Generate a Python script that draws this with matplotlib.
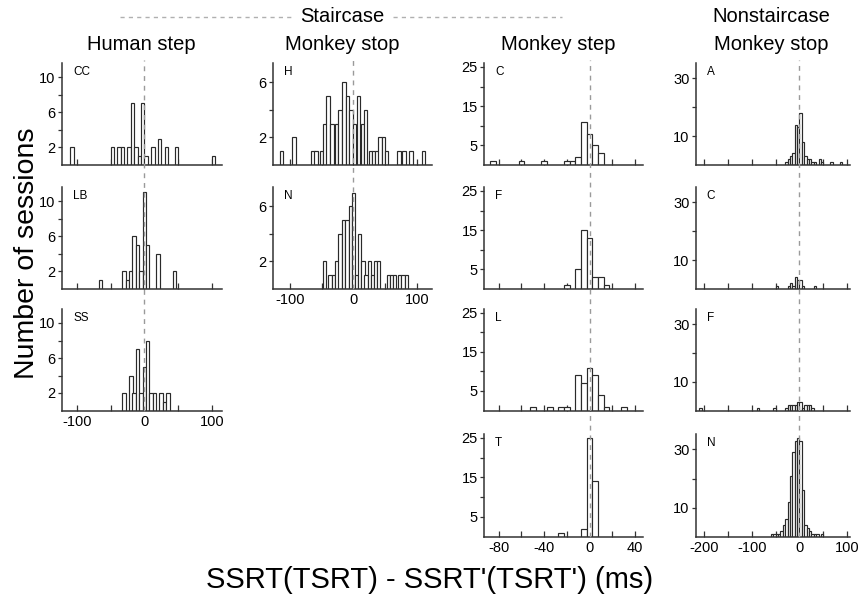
import matplotlib.pyplot as plt
from matplotlib.lines import Line2D
from matplotlib import transforms

plt.rcParams['font.family'] = ['Liberation Sans', 'DejaVu Sans']

W, H = 858, 601

# bin centres (ms) and number of sessions per bin

# staircase, human step
cc_x = [-107.5, -47.5, -37.5, -32.5, -22.5, -17.5, -12.5, -7.5, -2.5, 2.5, 12.5, 22.5, 32.5, 47.5, 102.5]
cc_n = [2, 2, 2, 2, 2, 7, 2, 1, 7, 1, 2, 3, 2, 2, 1]
lb_x = [-65, -30, -25, -20, -15, -10, -5, 0, 5, 20, 45]
lb_n = [1, 2, 1, 2, 6, 5, 2, 11, 5, 4, 2]
ss_x = [-30, -20, -15, -10, -5, 0, 5, 10, 15, 25, 30, 35]
ss_n = [2, 4, 2, 7, 2, 5, 8, 2, 2, 2, 1, 2]

# staircase, monkey stop
h_x = [-114, -94, -64, -59, -50, -45, -40, -34, -27, -21, -15, -9, -4, 2, 8, 14, 19,
       27, 32, 37, 42, 47, 52, 72, 80, 91, 111]
h_n = [1, 2, 1, 1, 1, 3, 5, 3, 3, 4, 6, 5, 4, 3, 5, 3, 4,
       1, 1, 1, 2, 2, 1, 1, 1, 1, 1]
n_x = [-46, -37, -32, -26, -21, -16, -10, -5, 0, 5, 10, 15, 20, 25, 30, 35, 40,
       55, 60, 65, 73, 78, 84]
n_n = [2, 1, 1, 2, 4, 5, 5, 6, 7, 1, 4, 2, 1, 2, 1, 2, 2,
       1, 1, 1, 1, 1, 1]

# staircase, monkey step
c_x = [-85, -60, -40, -20, -15, -10, -5, 0, 5, 10]
c_n = [1, 1, 1, 1, 1, 2, 11, 8, 5, 3]
f_x = [-20, -10, -5, 0, 5, 10, 15]
f_n = [1, 5, 15, 13, 3, 3, 1]
l_x = [-50, -35, -25, -20, -10, -5, 0, 5, 10, 15, 30]
l_n = [1, 1, 1, 1, 9, 7, 11, 9, 4, 1, 1]
t_x = [-25, -5, 0, 5]
t_n = [1, 2, 25, 14]

# nonstaircase, monkey stop
a_x = [-27.5, -22.5, -17.5, -12.5, -7.5, -2.5, 2.5, 7.5, 12.5, 17.5, 22.5, 27.5, 32.5,
       42.5, 47.5, 67.5, 87.5]
a_n = [1, 2, 3, 4, 14, 13, 18, 8, 3, 2, 2, 1, 1, 2, 1, 1, 1]
c4_x = [-47.5, -22.5, -17.5, -12.5, -7.5, -2.5, 2.5, 7.5, 32.5]
c4_n = [1, 1, 2, 1, 4, 3, 3, 1, 1]
f4_x = [-207.5, -87.5, -52.5, -27.5, -22.5, -17.5, -12.5, -7.5, -2.5, 2.5, 7.5,
        12.5, 17.5, 22.5, 27.5]
f4_n = [1, 1, 1, 1, 2, 2, 2, 2, 3, 3, 1, 2, 2, 2, 1]
n4_x = [-57.5, -52.5, -47.5, -42.5, -37.5, -32.5, -27.5, -22.5, -17.5, -12.5, -7.5,
        -2.5, 2.5, 7.5, 12.5, 17.5, 22.5, 27.5, 32.5, 37.5, 47.5]
n4_n = [1, 1, 1, 1, 2, 4, 6, 12, 21, 29, 33, 34, 33, 16, 4, 3, 2, 1, 1, 1, 1]

# column settings: x range, y range, ticks and which ticks get a label
cols = [
    dict(left=62, right=222, xlim=(-122, 115), ylim=(0, 11.6),
         xt=[-100, -50, 0, 50, 100], xl=[-100, 0, 100],
         yt=[2, 4, 6, 8, 10], yl=[2, 6, 10], w=5.2,
         panels=[('CC', cc_x, cc_n), ('LB', lb_x, lb_n), ('SS', ss_x, ss_n)]),
    dict(left=273, right=432, xlim=(-127, 124), ylim=(0, 7.4),
         xt=[-100, -50, 0, 50, 100], xl=[-100, 0, 100],
         yt=[2, 4, 6], yl=[2, 6], w=5.3,
         panels=[('H', h_x, h_n), ('N', n_x, n_n)]),
    dict(left=484, right=643, xlim=(-93, 47), ylim=(0, 26),
         xt=[-80, -60, -40, -20, 0, 20, 40], xl=[-80, -40, 0, 40],
         yt=[5, 10, 15, 20, 25], yl=[5, 15, 25], w=5,
         panels=[('C', c_x, c_n), ('F', f_x, f_n), ('L', l_x, l_n), ('T', t_x, t_n)]),
    dict(left=696, right=850, xlim=(-217, 106), ylim=(0, 35.3),
         xt=[-200, -150, -100, -50, 0, 50, 100], xl=[-200, -100, 0, 100],
         yt=[10, 20, 30], yl=[10, 30], w=5,
         panels=[('A', a_x, a_n), ('C', c4_x, c4_n), ('F', f4_x, f4_n), ('N', n4_x, n4_n)]),
]
rows = [(63, 165), (187, 289), (309, 410.5), (434, 536.7)]

fig = plt.figure(figsize=(W / 100, H / 100), dpi=100)

for col in cols:
    axes = []
    for i, (name, x, n) in enumerate(col['panels']):
        top, bot = rows[i]
        ax = fig.add_axes([col['left'] / W, 1 - bot / H,
                           (col['right'] - col['left']) / W, (bot - top) / H])
        ax.bar(x, n, width=col['w'], facecolor='white', edgecolor='#2a2a2a',
               linewidth=0.85, zorder=2)
        ax.set_xlim(*col['xlim'])
        ax.set_ylim(*col['ylim'])
        for s in ['top', 'right']:
            ax.spines[s].set_visible(False)
        for s in ['left', 'bottom']:
            ax.spines[s].set_linewidth(1.1)
            ax.spines[s].set_color('#333333')
        last = i == len(col['panels']) - 1
        ax.set_xticks(col['xt'])
        ax.set_xticklabels([(f'{v}' if (v in col['xl'] and last) else '') for v in col['xt']])
        ax.set_yticks(col['yt'])
        ax.set_yticklabels([(f'{v}' if v in col['yl'] else '') for v in col['yt']])
        ax.tick_params(axis='x', direction='in', length=4, width=0.9, color='#333333',
                       labelsize=10.5, pad=3)
        ax.tick_params(axis='y', direction='out', length=3, width=0.9, color='#333333',
                       labelsize=10.5, pad=1.5)
        ax.text(0.07, 0.97, name, transform=ax.transAxes, fontsize=8.5, va='top', ha='left')
        ax.patch.set_alpha(0)
        axes.append(ax)

    # zero line running down the whole column
    tr = transforms.blended_transform_factory(axes[0].transData, fig.transFigure)
    y0 = 1 - rows[len(axes) - 1][1] / H
    y1 = 1 - 60 / H
    fig.add_artist(Line2D([0, 0], [y0, y1], transform=tr, color='#9a9a9a',
                          linewidth=1.0, linestyle=(0, (3.5, 3.5)), zorder=5))

# column headings
def title(x, y, s):
    fig.text(x / W, 1 - y / H, s, fontsize=14.5, ha='center', va='center')

title(342, 17, 'Staircase')
title(141, 45, 'Human step')
title(342, 45, 'Monkey stop')
title(558, 45, 'Monkey step')
title(771, 17, 'Nonstaircase')
title(771, 45, 'Monkey stop')

for xa, xb in [(120, 292), (393, 562)]:
    fig.add_artist(Line2D([xa / W, xb / W], [1 - 17 / H, 1 - 17 / H], color='#b0b0b0',
                          linewidth=1.0, linestyle=(0, (3, 3))))

fig.text(27 / W, 1 - 253 / H, 'Number of sessions', fontsize=20.5, rotation=90,
         ha='center', va='center')
fig.text(430 / W, 1 - 580 / H, "SSRT(TSRT) - SSRT'(TSRT') (ms)", fontsize=21,
         ha='center', va='center')

fig.savefig('out.png', dpi=100)
